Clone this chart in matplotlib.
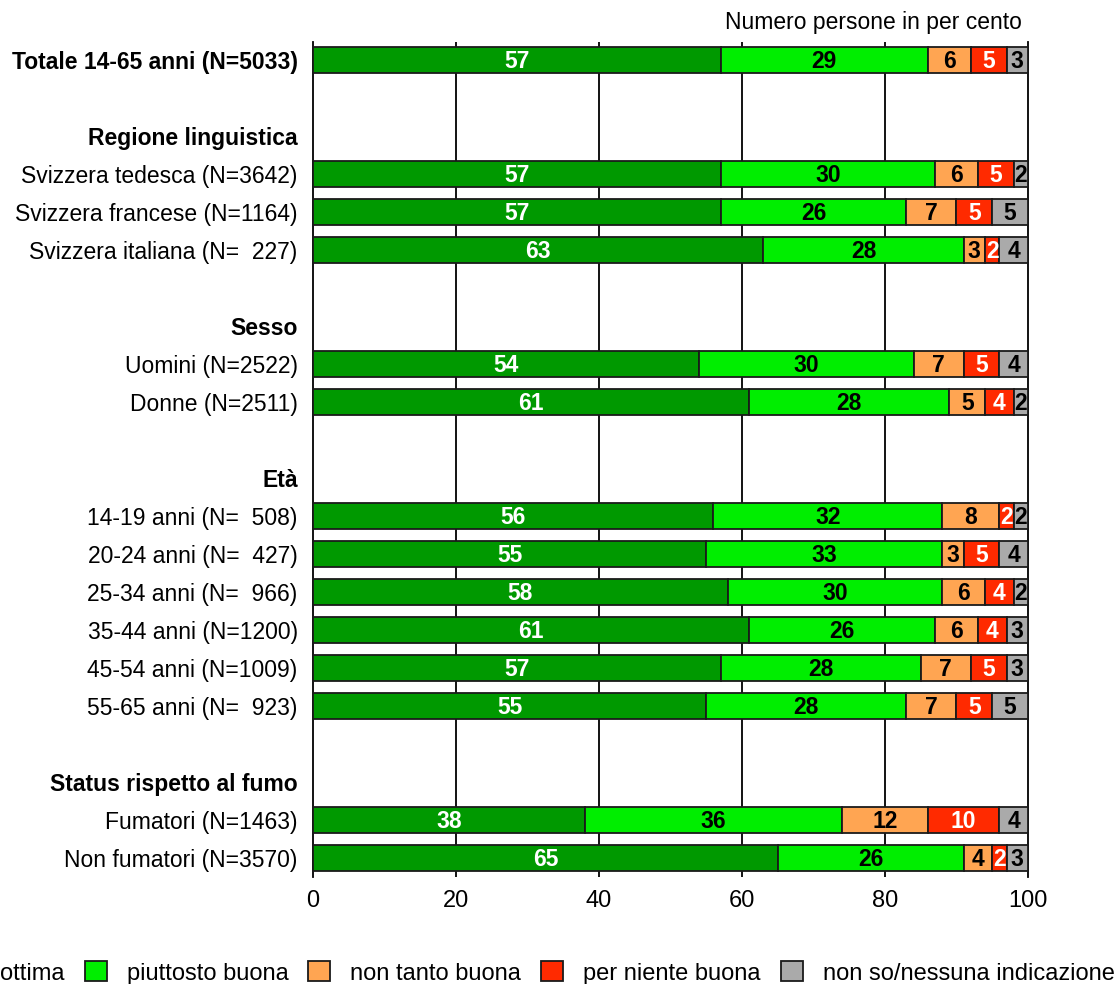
from matplotlib import pyplot as plt
from matplotlib.patches import Patch

plt.rcParams['font.family'] = ['Liberation Sans', 'DejaVu Sans']

# rows of the chart (empty label = blank line)
row_labels = [
    'Totale 14-65 anni (N=5033)', '', 'Regione linguistica',
    'Svizzera tedesca (N=3642)', 'Svizzera francese (N=1164)', 'Svizzera italiana (N=  227)',
    '', 'Sesso',
    'Uomini (N=2522)', 'Donne (N=2511)',
    '', 'Età',
    '14-19 anni (N=  508)', '20-24 anni (N=  427)', '25-34 anni (N=  966)',
    '35-44 anni (N=1200)', '45-54 anni (N=1009)', '55-65 anni (N=  923)',
    '', 'Status rispetto al fumo',
    'Fumatori (N=1463)', 'Non fumatori (N=3570)',
]
bold_labels = ['Totale 14-65 anni (N=5033)', 'Regione linguistica', 'Sesso', 'Età',
               'Status rispetto al fumo']

series_names = ['ottima', 'piuttosto buona', 'non tanto buona', 'per niente buona',
                'non so/nessuna indicazione']
colors = ['#009900', '#00EE00', '#FFA552', '#FF2A00', '#AAAAAA']
text_colors = ['white', 'black', 'black', 'white', 'black']

ottima = [57, None, None, 57, 57, 63, None, None, 54, 61, None, None,
          56, 55, 58, 61, 57, 55, None, None, 38, 65]
piuttosto = [29, None, None, 30, 26, 28, None, None, 30, 28, None, None,
             32, 33, 30, 26, 28, 28, None, None, 36, 26]
non_tanto = [6, None, None, 6, 7, 3, None, None, 7, 5, None, None,
             8, 3, 6, 6, 7, 7, None, None, 12, 4]
per_niente = [5, None, None, 5, 5, 2, None, None, 5, 4, None, None,
              2, 5, 4, 4, 5, 5, None, None, 10, 2]
non_so = [3, None, None, 2, 5, 4, None, None, 4, 2, None, None,
          2, 4, 2, 3, 3, 5, None, None, 4, 3]

series = [ottima, piuttosto, non_tanto, per_niente, non_so]

fig = plt.figure(figsize=(11.17, 9.84), dpi=100)
ax = fig.add_axes([0.2802, 0.1087, 0.6401, 0.8486])

for i in range(len(row_labels)):
    if ottima[i] is None:
        continue
    left = 0
    for s, vals in enumerate(series):
        v = vals[i]
        ax.barh(i, v, left=left, height=0.7, color=colors[s],
                edgecolor='#1a1a1a', linewidth=1.3, zorder=3)
        ax.text(left + v / 2, i + 0.03, str(v), ha='center', va='center',
                color=text_colors[s], fontsize=16.5, fontweight='bold', zorder=4)
        left += v

ax.set_xlim(0, 100)
ax.set_ylim(21.5, -0.47)
for x in [20, 40, 60, 80]:
    ax.axvline(x, color='black', linewidth=1.3, zorder=1)
ax.spines['top'].set_visible(False)
ax.spines['bottom'].set_visible(False)
ax.spines['left'].set_linewidth(1.3)
ax.spines['right'].set_linewidth(1.3)

ax.set_xticks([0, 20, 40, 60, 80, 100])
ax.tick_params(axis='x', length=0, pad=9, labelsize=17)
ax.set_yticks(range(len(row_labels)))
ax.set_yticklabels(row_labels, fontsize=16.5)
ax.tick_params(axis='y', length=0, pad=11)
for lab in ax.get_yticklabels():
    if lab.get_text() in bold_labels:
        lab.set_fontweight('bold')

fig.text(1022 / 1117, 1 - 22 / 984, 'Numero persone in per cento',
         ha='right', va='center', fontsize=16.5)

handles = [Patch(facecolor=c, edgecolor='#1a1a1a', linewidth=1.3) for c in colors]
fig.legend(handles, series_names, loc='center left', ncol=5, frameon=False,
           bbox_to_anchor=(-42 / 1117, 1 - 973 / 984), fontsize=17,
           handlelength=0.93, handleheight=0.93, handletextpad=0.85,
           columnspacing=0.85, borderpad=0, borderaxespad=0)

fig.savefig('out.png', dpi=100)
